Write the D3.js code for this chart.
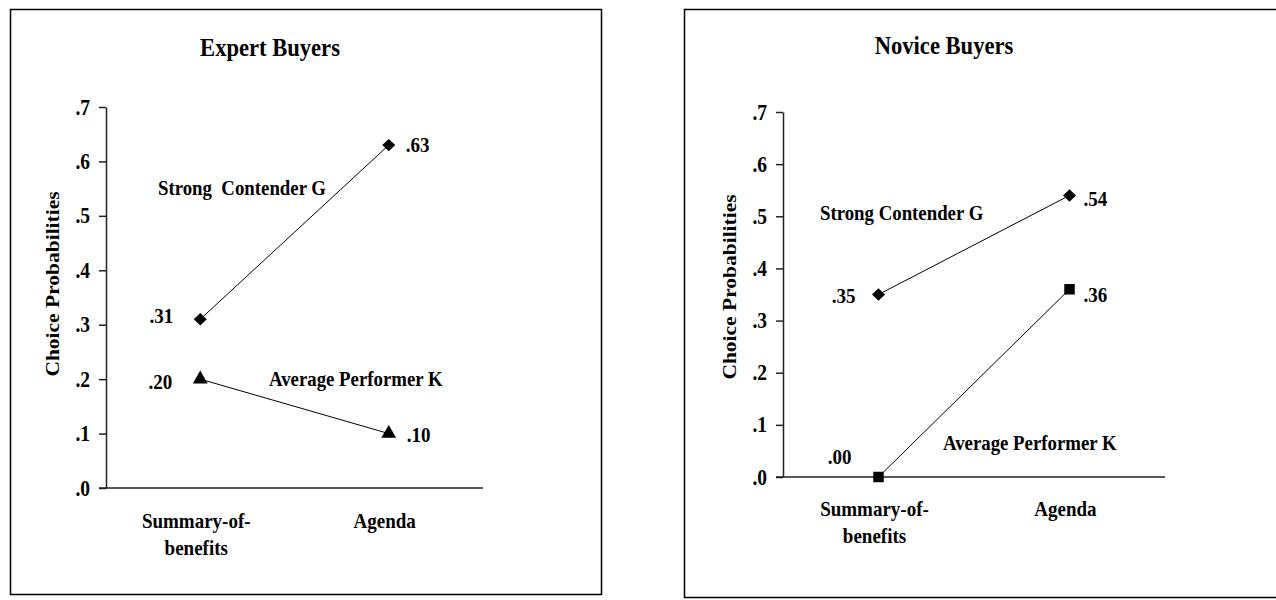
<!DOCTYPE html>
<html>
<head>
<meta charset="utf-8">
<script src="https://cdn.jsdelivr.net/npm/d3@7"></script>
<style>
  html, body { margin: 0; padding: 0; background: #fff; }
  svg text { font-family: "Liberation Serif", "Times New Roman", serif; font-weight: bold; fill: #000; white-space: pre; }
</style>
</head>
<body>
<svg id="chart" width="1276" height="600"></svg>
<script>
// ---- data ----
const categories = ["Summary-of-benefits", "Agenda"];
const categoryLines = [["Summary-of-", "benefits"], ["Agenda"]];
const yTicks = [0, 0.1, 0.2, 0.3, 0.4, 0.5, 0.6, 0.7];
const yTickLabels = [".0", ".1", ".2", ".3", ".4", ".5", ".6", ".7"];
const panelTitles = ["Expert Buyers", "Novice Buyers"];
const yAxisTitle = "Choice Probabilities";

const expertStrongG = [0.31, 0.63];
const expertAverageK = [0.20, 0.10];
const noviceStrongG = [0.35, 0.54];
const noviceAverageK = [0.00, 0.36];

const expertSeriesNames = ["Strong  Contender G", "Average Performer K"];
const noviceSeriesNames = ["Strong Contender G", "Average Performer K"];

const expertValueLabels = [[".31", ".63"], [".20", ".10"]];
const noviceValueLabels = [[".35", ".54"], [".00", ".36"]];

// ---- layout ----
const SX = 0.87; // horizontal squeeze of the lettering
const diamond = {
  draw(ctx, size) {
    const hw = 6.5, hh = 6.2;
    ctx.moveTo(0, -hh); ctx.lineTo(hw, 0); ctx.lineTo(0, hh); ctx.lineTo(-hw, 0); ctx.closePath();
  }
};

const panels = [
  {
    title: panelTitles[0],
    series: [
      { values: expertStrongG, symbol: diamond, name: expertSeriesNames[0], labels: expertValueLabels[0] },
      { values: expertAverageK, symbol: d3.symbolTriangle, name: expertSeriesNames[1], labels: expertValueLabels[1] }
    ],
    box: { x: 10, y: 9, w: 591, h: 585 },
    plot: { x0: 106, x1: 483, y0: 488, y1: 107 },
    titlePos: { x: 270, y: 56 },
    yTitle: { x: 59, y: 284 },
    catBaseline: 528,
    nameLabels: [{ x: 158, y: 195 }, { x: 269, y: 386 }],
    valOffsets: [[{ dx: -27, dy: 4, anchor: "end" }, { dx: 17, dy: 7, anchor: "start" }],
                 [{ dx: -28, dy: 10, anchor: "end" }, { dx: 18, dy: 8, anchor: "start" }]]
  },
  {
    title: panelTitles[1],
    series: [
      { values: noviceStrongG, symbol: diamond, name: noviceSeriesNames[0], labels: noviceValueLabels[0] },
      { values: noviceAverageK, symbol: d3.symbolSquare, name: noviceSeriesNames[1], labels: noviceValueLabels[1] }
    ],
    box: { x: 684, y: 9, w: 600, h: 588 },
    plot: { x0: 783, x1: 1165, y0: 477, y1: 112 },
    titlePos: { x: 944, y: 54 },
    yTitle: { x: 736, y: 287 },
    catBaseline: 516,
    nameLabels: [{ x: 820, y: 220 }, { x: 943, y: 450 }],
    valOffsets: [[{ dx: -23, dy: 8, anchor: "end" }, { dx: 14, dy: 11, anchor: "start" }],
                 [{ dx: -27, dy: -13, anchor: "end" }, { dx: 14, dy: 13, anchor: "start" }]]
  }
];

const svg = d3.select("#chart");

// text helper: size = apparent width size; glyphs drawn taller by 1/SX
function addText(g, x, y, str, size, anchor) {
  return g.append("text")
    .attr("transform", `translate(${x},${y}) scale(${SX},1)`)
    .attr("text-anchor", anchor || "start")
    .style("font-size", (size / SX) + "px")
    .text(str);
}

panels.forEach(p => {
  const g = svg.append("g");

  g.append("rect")
    .attr("x", p.box.x + 0.5).attr("y", p.box.y + 0.5)
    .attr("width", p.box.w).attr("height", p.box.h)
    .attr("fill", "none").attr("stroke", "#000").attr("stroke-width", 1.5);

  const x = d3.scaleBand().domain(categories).range([p.plot.x0, p.plot.x1]);
  const y = d3.scaleLinear().domain([0, 0.7]).range([p.plot.y0, p.plot.y1]);

  addText(g, p.titlePos.x, p.titlePos.y, p.title, 22.6, "middle");

  // y axis
  const yAxis = d3.axisLeft(y)
    .tickValues(yTicks)
    .tickFormat((d, i) => yTickLabels[i])
    .tickSize(7)
    .tickPadding(9)
    .tickSizeOuter(0);
  const ya = g.append("g")
    .attr("transform", `translate(${p.plot.x0},0)`)
    .call(yAxis);
  ya.select(".domain").attr("stroke", "#222").attr("stroke-width", 1.5);
  ya.selectAll(".tick line").attr("stroke", "#222").attr("stroke-width", 1.5);
  ya.selectAll(".tick text")
    .attr("x", null).attr("dy", null)
    .attr("transform", `translate(-16,7) scale(${SX},1)`)
    .style("font-family", '"Liberation Serif", "Times New Roman", serif')
    .style("font-weight", "bold")
    .style("font-size", (19.5 / SX) + "px")
    .attr("fill", "#000");

  // x axis line
  g.append("line")
    .attr("x1", p.plot.x0 - 7).attr("x2", p.plot.x1)
    .attr("y1", y(0)).attr("y2", y(0))
    .attr("stroke", "#222").attr("stroke-width", 1.5);

  // category labels
  categories.forEach((c, i) => {
    categoryLines[i].forEach((ln, j) => {
      addText(g, x(c) + x.bandwidth() / 2 - 4, p.catBaseline + j * 27, ln, 19, "middle");
    });
  });

  // y axis title
  g.append("text")
    .attr("transform", `translate(${p.yTitle.x},${p.yTitle.y}) rotate(-90) scale(1,${SX})`)
    .attr("text-anchor", "middle")
    .style("font-size", "21.5px")
    .text(yAxisTitle);

  const line = d3.line()
    .x((d, i) => x(categories[i]) + x.bandwidth() / 2)
    .y(d => y(d));

  p.series.forEach((s, si) => {
    g.append("path")
      .attr("d", line(s.values))
      .attr("fill", "none")
      .attr("stroke", "#000")
      .attr("stroke-width", 1);

    const sym = d3.symbol().type(s.symbol).size(s.symbol === d3.symbolSquare ? 110 : 95);
    s.values.forEach((v, i) => {
      const cx = x(categories[i]) + x.bandwidth() / 2;
      const cy = y(v);
      g.append("path")
        .attr("d", sym())
        .attr("transform", `translate(${cx},${cy})`)
        .attr("fill", "#000");

      const off = p.valOffsets[si][i];
      addText(g, cx + off.dx, cy + off.dy, s.labels[i], 19, off.anchor);
    });

    addText(g, p.nameLabels[si].x, p.nameLabels[si].y, s.name, 18.8, "start");
  });
});
</script>
</body>
</html>
